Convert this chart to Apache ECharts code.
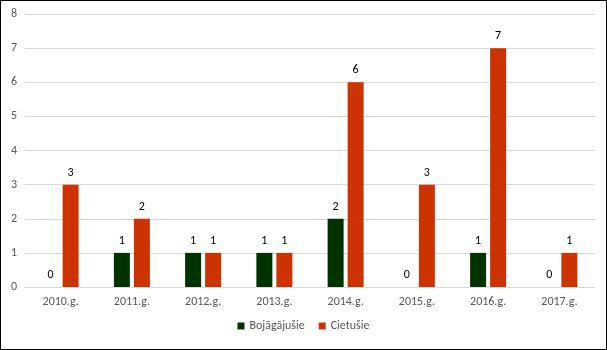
<!DOCTYPE html>
<html><head><meta charset="utf-8">
<script src="https://cdn.jsdelivr.net/npm/echarts@6/dist/echarts.min.js"></script>
<style>html,body{margin:0;padding:0;background:#fff}#c{width:607px;height:350px;box-sizing:border-box;border:1px solid #000;}</style>
</head><body><div id="c"></div>
<script>
const categories = ['2010.g.','2011.g.','2012.g.','2013.g.','2014.g.','2015.g.','2016.g.','2017.g.'];
const bojagajusie = [0,1,1,1,2,0,1,0];
const cietusie = [3,2,1,1,6,3,7,1];
const chart = echarts.init(document.getElementById('c'));
const font = 'Calibri, Carlito, "Open Sans", "Noto Sans", sans-serif';
chart.setOption({
  animation:false,
  textStyle:{fontFamily:font},
  grid:{left:24,right:11,top:13,bottom:62},
  legend:{bottom:12,left:'center',itemWidth:7,itemHeight:7,itemGap:14,icon:'rect',
    textStyle:{color:'#595959',fontSize:12,fontFamily:font},
    data:['Bojāgājušie','Cietušie']},
  xAxis:{type:'category',data:categories,
    axisLine:{show:true,lineStyle:{color:'#d9d9d9'}},axisTick:{show:false},
    axisLabel:{color:'#595959',fontSize:12,margin:9,fontFamily:font}},
  yAxis:{type:'value',min:0,max:8,interval:1,
    axisLine:{show:false},axisTick:{show:false},
    splitLine:{lineStyle:{color:'#d9d9d9'}},
    axisLabel:{color:'#595959',fontSize:12,margin:8,fontFamily:font}},
  series:[
    {name:'Bojāgājušie',type:'bar',data:bojagajusie,barWidth:16,barGap:'25%',
     itemStyle:{color:'#003300'},
     label:{show:true,position:'top',color:'#000',fontSize:12,distance:6,fontFamily:font}},
    {name:'Cietušie',type:'bar',data:cietusie,barWidth:16,
     itemStyle:{color:'#CC3300'},
     label:{show:true,position:'top',color:'#000',fontSize:12,distance:6,fontFamily:font}}
  ]
});
</script></body></html>
